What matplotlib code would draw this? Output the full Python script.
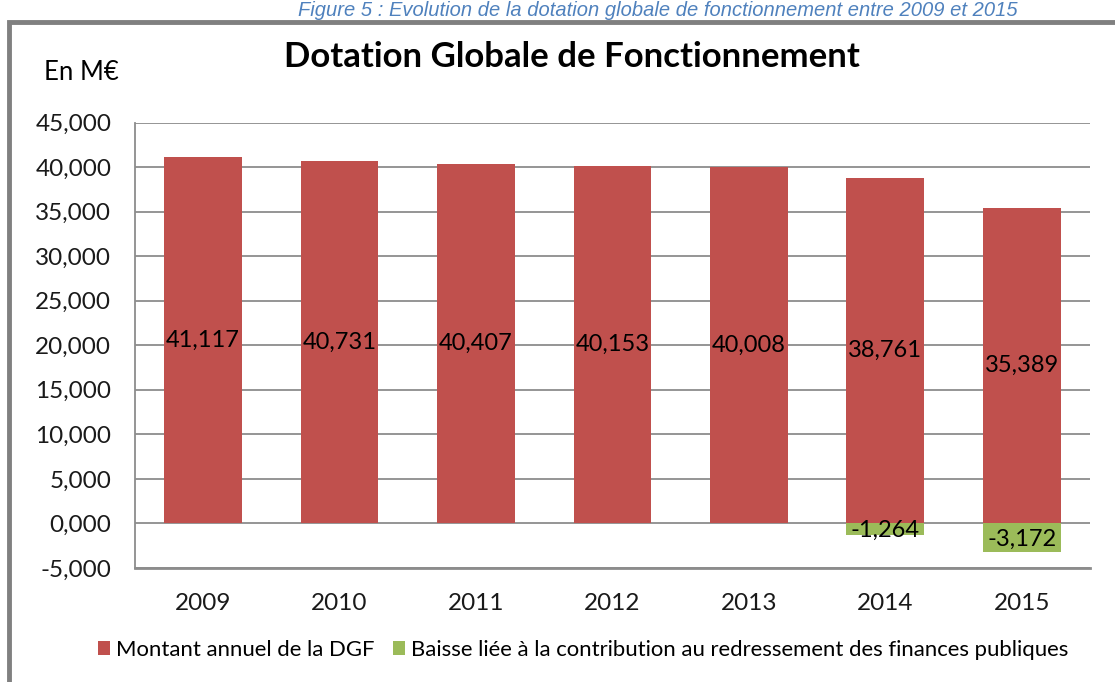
import matplotlib.pyplot as plt
from matplotlib.patches import Rectangle

# data (M€)
years = ["2009", "2010", "2011", "2012", "2013", "2014", "2015"]
dgf_amount = [41117, 40731, 40407, 40153, 40008, 38761, 35389]
dgf_cut = [0, 0, 0, 0, 0, -1264, -3172]
y_ticks = [-5000, 0, 5000, 10000, 15000, 20000, 25000, 30000, 35000, 40000, 45000]
y_tick_labels = ["-5,000", "0,000", "5,000", "10,000", "15,000", "20,000",
                 "25,000", "30,000", "35,000", "40,000", "45,000"]

RED = "#C0504D"
GREEN = "#9BBB59"
GRID = "#8C8C8C"
FONT = ["Lato", "DejaVu Sans"]

plt.rcParams["font.family"] = FONT

fig = plt.figure(figsize=(11.15, 6.82), dpi=100)
ax = fig.add_axes([0.121, 0.1672, 0.8566, 0.653])

x = range(len(years))
bars_main = ax.bar(x, dgf_amount, width=0.57, color=RED, zorder=2,
                   label="Montant annuel de la DGF")
bars_cut = ax.bar(x, dgf_cut, width=0.57, color=GREEN, zorder=2,
                  label="Baisse liée à la contribution au redressement des finances publiques")

# value labels, centred in each segment
for rect, v in zip(bars_main, dgf_amount):
    ax.text(rect.get_x() + rect.get_width() / 2, v / 2, f"{v:,}",
            ha="center", va="center", fontsize=17, color="black", zorder=3)
for rect, v in zip(bars_cut, dgf_cut):
    if v == 0:
        continue
    ax.text(rect.get_x() + rect.get_width() / 2, v / 2 - 150, f"{v:,}",
            ha="center", va="center", fontsize=17, color="black", zorder=3)

ax.set_xlim(-0.5, len(years) - 0.5)
ax.set_ylim(-5000, 45000)
ax.set_yticks(y_ticks)
ax.set_yticklabels(y_tick_labels)
ax.set_xticks(list(x))
ax.set_xticklabels(years)
ax.tick_params(axis="y", length=0, pad=17, labelsize=17.5, labelcolor="#1a1a1a")
ax.tick_params(axis="x", length=0, pad=18, labelsize=17.5, labelcolor="#1a1a1a")
ax.grid(axis="y", color=GRID, linewidth=1.3, zorder=0)
ax.set_axisbelow(True)
for side in ("top", "right"):
    ax.spines[side].set_visible(False)
ax.spines["left"].set_color(GRID)
ax.spines["left"].set_linewidth(1.3)
ax.spines["bottom"].set_color(GRID)
ax.spines["bottom"].set_linewidth(2)

fig.text(0.513, 0.916, "Dotation Globale de Fonctionnement", ha="center", va="center",
         fontsize=25, fontweight="bold", color="black")
fig.text(0.0727, 0.894, "En M€", ha="center", va="center", fontsize=18.5, color="black")

# figure caption above the frame
fig.text(0.59, 0.999, "Figure 5 : Evolution de la dotation globale de fonctionnement entre 2009 et 2015",
         ha="center", va="top", fontsize=14.5, style="italic", color="#4F81BD",
         family="Liberation Sans")

# outer frame
fig.patches.append(Rectangle((0.008, -0.05), 1.2, 1.018, transform=fig.transFigure,
                             fill=False, edgecolor="#808080", linewidth=3.5))

fig.legend(loc="center", bbox_to_anchor=(0.523, 0.047), ncol=2, frameon=False,
           fontsize=15.9, handlelength=0.55, handleheight=0.55, handletextpad=0.3,
           columnspacing=0.8)

fig.savefig("out.png", dpi=100, facecolor="white")
